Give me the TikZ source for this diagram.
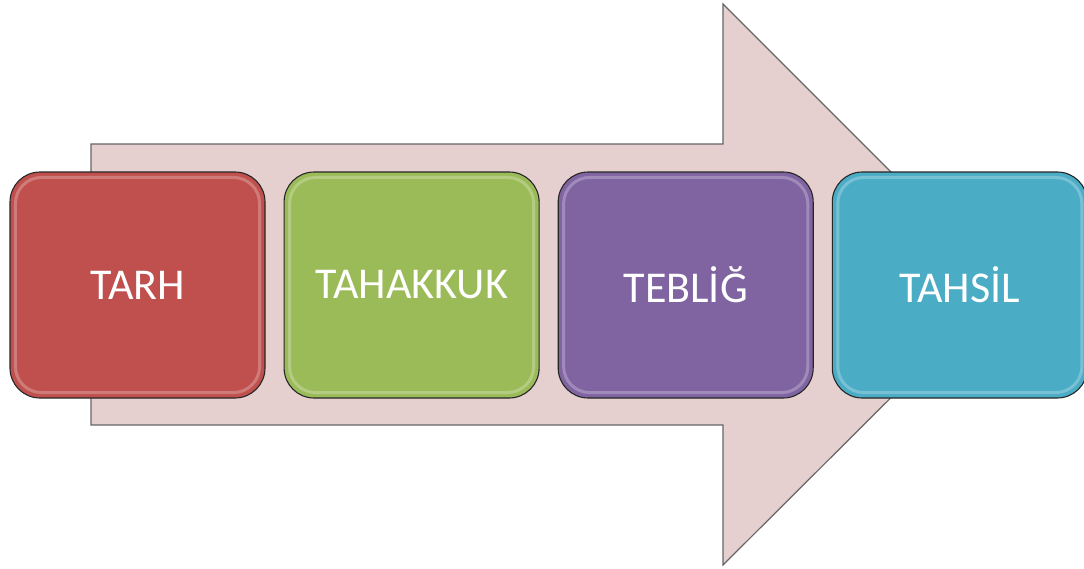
\documentclass[tikz,border=0pt]{standalone}
\usepackage{fontspec}
\setmainfont{Carlito}
\usetikzlibrary{positioning}
\definecolor{tarhred}{HTML}{C0504D}
\definecolor{tahgreen}{HTML}{9BBB59}
\definecolor{tebpurple}{HTML}{8064A2}
\definecolor{tahteal}{HTML}{4BACC6}
\definecolor{arrowpink}{HTML}{E6CFCF}
\begin{document}
\begin{tikzpicture}
    [ x=1pt, y=-1pt
    , step box/.style={draw=black!85,line width=1.1pt,shape=rectangle,rounded corners=30pt,
        minimum height=226pt,minimum width=255pt,text=white,font=\fontsize{44}{48}\selectfont}
    , big arrow/.style={draw=black!60,line width=1.2pt,fill=arrowpink}
    , gloss/.style={draw=white,line width=3pt,opacity=0.25,rounded corners=26pt}
    ]
    \useasboundingbox (0,0) rectangle (1084,568);

    % background arrow
    \draw [big arrow] (91,144) -- (723,144) -- (723,4) -- (1004,285)
      -- (723,565) -- (723,425) -- (91,425) -- cycle;

    \node [step box, fill=tarhred]   (tarh)     at (137.5,285) {TARH};
    \node [step box, fill=tahgreen,  right=18pt of tarh]     (tahakkuk) {TAHAKKUK};
    \node [step box, fill=tebpurple, right=18pt of tahakkuk] (teblig)   {TEBLİĞ};
    \node [step box, fill=tahteal,   right=18pt of teblig]   (tahsil)   {TAHSİL};

    \foreach \n in {tarh,tahakkuk,teblig,tahsil}
      \draw [gloss] ([shift={(6pt,-6pt)}]\n.north west) rectangle ([shift={(-6pt,6pt)}]\n.south east);
  \end{tikzpicture}
\end{document}
